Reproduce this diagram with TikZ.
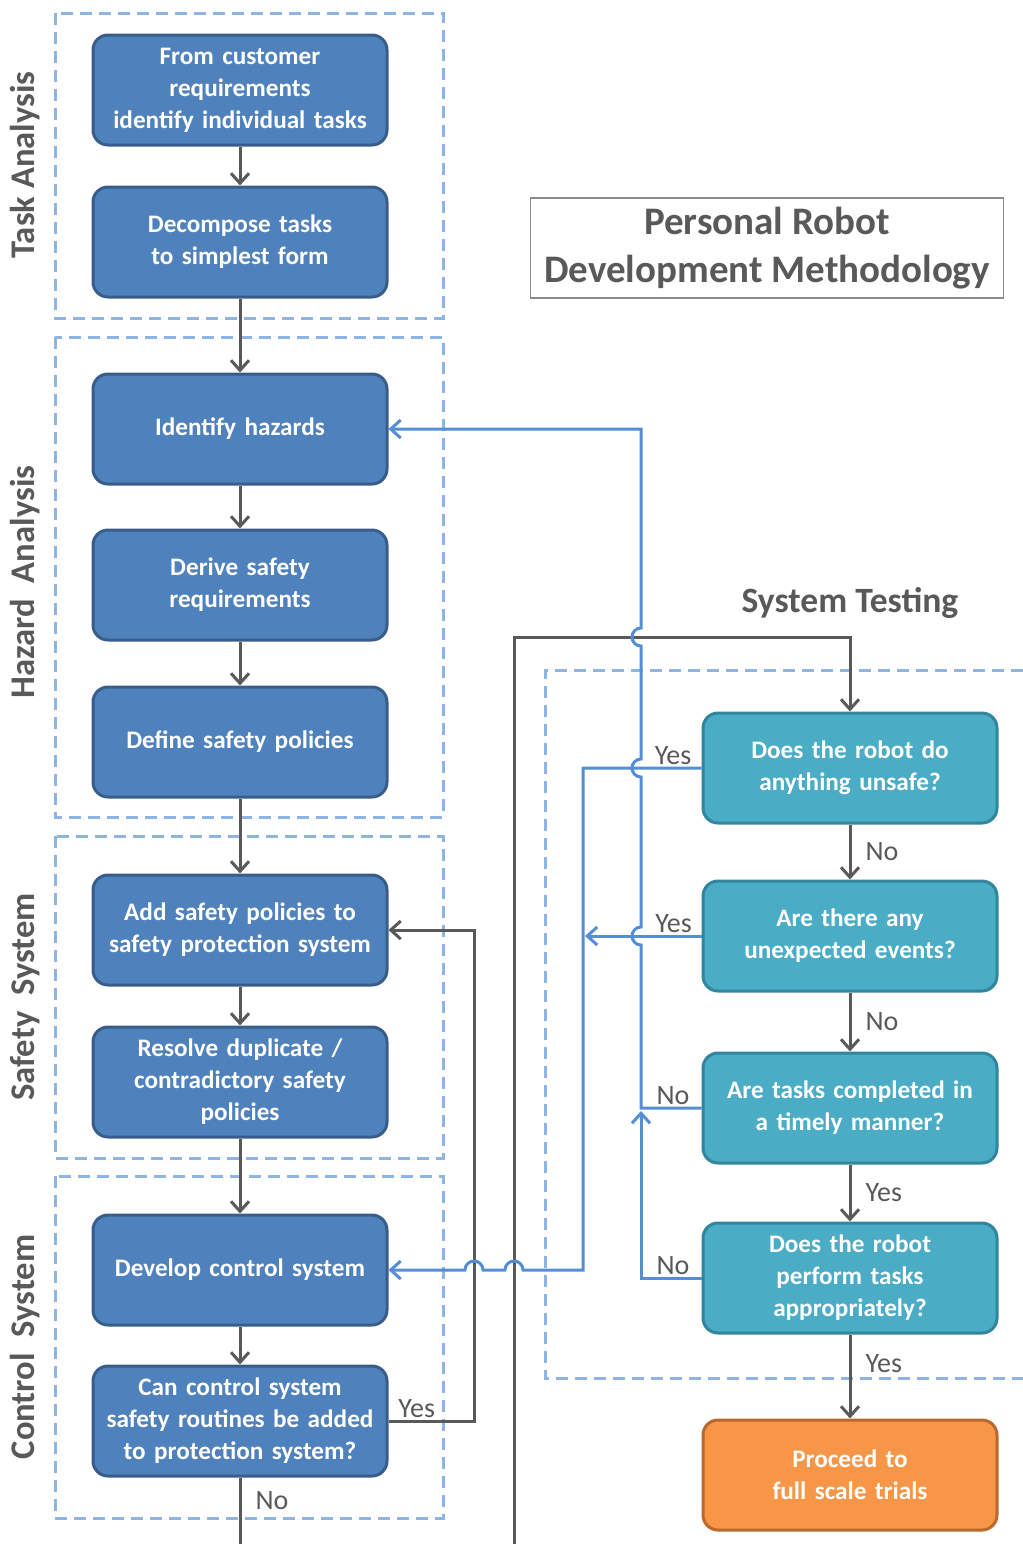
\documentclass[tikz,border=0pt]{standalone}
\usepackage{fontspec}
\setmainfont{Carlito}
\usetikzlibrary{positioning,arrows.meta}
\definecolor{taskblue}{HTML}{4F81BD}
\definecolor{taskedge}{HTML}{385D8A}
\definecolor{testteal}{HTML}{4BACC6}
\definecolor{testedge}{HTML}{31859C}
\definecolor{trialorange}{HTML}{F79646}
\definecolor{trialedge}{HTML}{B8692E}
\definecolor{flowgray}{HTML}{595959}
\definecolor{loopblue}{HTML}{558ED5}
\definecolor{groupblue}{HTML}{8DB4E2}
\tikzset{
  stepbox/.style={draw=taskedge, fill=taskblue, line width=1.5pt, rounded corners=7.5pt,
    minimum width=147pt, minimum height=55pt, text width=141pt, inner xsep=3pt, align=center,
    text=white, font=\bfseries\fontsize{12.6}{16}\selectfont},
  testbox/.style={stepbox, draw=testedge, fill=testteal},
  trialbox/.style={stepbox, draw=trialedge, fill=trialorange},
  gline/.style={draw=flowgray, line width=1.5pt},
  garrow/.style={gline, -{Straight Barb[length=5pt,width=9pt]}},
  bline/.style={draw=loopblue, line width=1.5pt},
  barrow/.style={bline, -{Straight Barb[length=5pt,width=9pt]}},
  group/.style={draw=groupblue, line width=1.5pt, dash pattern=on 6pt off 3.5pt},
  grouplabel/.style={rotate=90, text=flowgray, font=\bfseries\fontsize{17.3}{20}\selectfont},
  answer/.style={text=flowgray, font=\fontsize{14}{16}\selectfont, inner sep=1pt},
}
\begin{document}
\begin{tikzpicture}[x=0.5pt, y=-0.5pt]
\useasboundingbox (0,0) rectangle (1023,1544);
% groups
\draw[group] (55,13) rectangle (443,318);
\draw[group] (55,337) rectangle (443,817);
\draw[group] (55,836) rectangle (443,1158);
\draw[group] (55,1176) rectangle (443,1518);
\draw[group] (1023,670) -- (545,670) -- (545,1378) -- (1023,1378);
\node[grouplabel] (lta) at (25,165) {Task Analysis};
\node[grouplabel] (lha) at (25,582) {Hazard~~Analysis};
\node[grouplabel] (lss) at (25,997) {Safety~~System};
\node[grouplabel] (lcs) at (25,1347) {Control~~System};
\node[text=flowgray, font=\bfseries\fontsize{17.8}{20}\selectfont] (lst) at (850,603) {System Testing};
\node[draw=black!45, line width=0.75pt, minimum width=236.5pt, minimum height=50pt, align=center,
  text=flowgray, font=\bfseries\fontsize{19.5}{24}\selectfont] (title) at (767,248) {Personal Robot\\Development Methodology};

% left column
\node[stepbox] (a) at (240,90) {From customer\\requirements\\identify individual tasks};
\node[stepbox, below of=a, node distance=76pt] (b) {Decompose tasks\\to simplest form};
\node[stepbox, below of=b, node distance=93.5pt] (c) {Identify hazards};
\node[stepbox, below of=c, node distance=78pt] (d) {Derive safety\\requirements};
\node[stepbox, below of=d, node distance=78.5pt] (e) {Define safety policies};
\node[stepbox, below of=e, node distance=94pt] (f) {Add safety policies to\\safety protection system};
\node[stepbox, below of=f, node distance=76pt] (g) {Resolve duplicate /\\contradictory safety\\policies};
\node[stepbox, below of=g, node distance=94pt] (h) {Develop control system};
\node[stepbox, below of=h, node distance=75.5pt] (i) {Can control system\\safety routines be added\\to protection system?};

% right column
\node[testbox] (q1) at (850,768) {Does the robot do\\anything unsafe?};
\node[testbox, below of=q1, node distance=84pt] (q2) {Are there any\\unexpected events?};
\node[testbox, below of=q2, node distance=86pt] (q3) {Are tasks completed in\\a timely manner?};
\node[testbox, below of=q3, node distance=85pt] (q4) {Does the robot\\perform tasks\\appropriately?};
\node[trialbox, below of=q4, node distance=98.5pt] (go) {Proceed to\\full scale trials};

\coordinate (exitL) at (240,1544);
\coordinate (feed) at (514,1544);

\draw[garrow] (a) -- (b);
\draw[garrow] (b) -- (c);
\draw[garrow] (c) -- (d);
\draw[garrow] (d) -- (e);
\draw[garrow] (e) -- (f);
\draw[garrow] (f) -- (g);
\draw[garrow] (g) -- (h);
\draw[garrow] (h) -- (i);
\draw[gline] (i) -- node[answer, right, pos=0.35, xshift=6pt] {No} (exitL);
\draw[garrow] (i.east) -- node[answer, above, pos=0.33] {Yes} (474,1421) |- (f.east);
\draw[garrow] (feed) -- (514,637) -| (q1);
\draw[garrow] (q1) -- node[answer, right, xshift=6pt] {No} (q2);
\draw[garrow] (q2) -- node[answer, right, xshift=6pt] {No} (q3);
\draw[garrow] (q3) -- node[answer, right, xshift=6pt] {Yes} (q4);
\draw[garrow] (q4) -- node[answer, right, pos=0.35, xshift=6pt] {Yes} (go);

% loops back
\draw[barrow] (q1.west) -- node[answer, above, pos=0.24] {Yes} (583,768) -- (583,1270)
  -- (523,1270) arc(0:-180:9) -- (483,1270) arc(0:-180:9) -- (h.east);
\draw[barrow] (q2.west) -- node[answer, above, pos=0.24] {Yes} (585,936);
\draw[barrow] (q3.west) -- node[answer, above, pos=0.47] {No} (641,1108)
  -- (641,945) arc(90:270:9) -- (641,777) arc(90:270:9) -- (641,646) arc(90:270:9) |- (c.east);
\draw[barrow] (q4.west) -- node[answer, above, pos=0.47] {No} (641,1278) -- (641,1111);
\end{tikzpicture}
\end{document}
